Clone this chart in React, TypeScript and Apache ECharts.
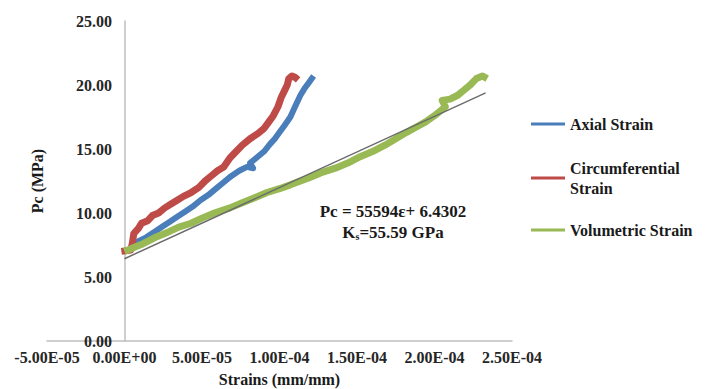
import React, { useEffect, useRef } from "react";
import * as echarts from "echarts";

const seriesNames = ["Axial Strain", "Circumferential Strain", "Volumetric Strain"];
const seriesColors = ["#4A7EBB", "#BE4B48", "#98B954"];

const axialStrain: [number, number][] = [
  [0.5e-5, 7.2], [0.9e-5, 7.8], [1.4e-5, 8.1], [1.9e-5, 8.5], [2.4e-5, 8.9],
  [2.9e-5, 9.3], [3.4e-5, 9.7], [3.9e-5, 10.1], [4.4e-5, 10.5], [4.9e-5, 11.0],
  [5.4e-5, 11.4], [5.9e-5, 11.9], [6.4e-5, 12.4], [6.9e-5, 12.9], [7.4e-5, 13.3],
  [7.9e-5, 13.6], [8.3e-5, 13.5], [8.1e-5, 13.9], [8.5e-5, 14.3], [9.0e-5, 14.8],
  [9.4e-5, 15.4], [9.7e-5, 15.8], [1.0e-4, 16.3], [1.03e-4, 16.8], [1.07e-4, 17.5],
  [1.1e-4, 18.3], [1.135e-4, 19.2], [1.16e-4, 19.7], [1.19e-4, 20.2], [1.22e-4, 20.7],
];

const circumferentialStrain: [number, number][] = [
  [-0.2e-5, 7.0], [0.4e-5, 7.1], [0.5e-5, 7.6], [0.6e-5, 8.4], [0.9e-5, 8.8],
  [1.1e-5, 9.2], [1.5e-5, 9.4], [1.8e-5, 9.8], [2.2e-5, 10.0], [2.6e-5, 10.4],
  [3.0e-5, 10.7], [3.4e-5, 11.0], [3.8e-5, 11.3], [4.3e-5, 11.6], [4.8e-5, 12.0],
  [5.2e-5, 12.5], [5.6e-5, 12.9], [6.0e-5, 13.3], [6.4e-5, 13.6], [6.8e-5, 14.3],
  [7.2e-5, 14.8], [7.6e-5, 15.3], [8.1e-5, 15.8], [8.6e-5, 16.2], [9.0e-5, 16.6],
  [9.3e-5, 17.1], [9.6e-5, 17.6], [9.9e-5, 18.3], [1.01e-4, 19.0], [1.03e-4, 19.5],
  [1.05e-4, 20.0], [1.06e-4, 20.5], [1.08e-4, 20.7], [1.1e-4, 20.6], [1.12e-4, 20.4],
];

const volumetricStrain: [number, number][] = [
  [0, 7.0], [0.6e-5, 7.3], [1.2e-5, 7.6], [2.0e-5, 8.1], [2.8e-5, 8.5],
  [3.5e-5, 8.9], [4.3e-5, 9.2], [5.0e-5, 9.6], [5.8e-5, 10.0], [6.8e-5, 10.4],
  [7.6e-5, 10.8], [8.4e-5, 11.2], [9.2e-5, 11.6], [1.0e-4, 11.9], [1.07e-4, 12.2],
  [1.135e-4, 12.5], [1.2e-4, 12.8], [1.28e-4, 13.2], [1.36e-4, 13.5], [1.44e-4, 13.9],
  [1.52e-4, 14.4], [1.6e-4, 14.8], [1.68e-4, 15.3], [1.75e-4, 15.8], [1.82e-4, 16.3],
  [1.88e-4, 16.7], [1.94e-4, 17.1], [2.0e-4, 17.6], [2.04e-4, 18.0], [2.07e-4, 18.3],
  [2.05e-4, 18.8], [2.1e-4, 18.9], [2.15e-4, 19.2], [2.19e-4, 19.6], [2.23e-4, 20.0],
  [2.27e-4, 20.5], [2.31e-4, 20.7], [2.34e-4, 20.5],
];

const trendLine: [number, number][] = [
  [0, 6.4302],
  [2.33e-4, 19.38],
];

const equationText = "Pc = 55594ε+ 6.4302";
const modulusParts = ["K", "s", "=55.59 GPa"];

const xTicks = { min: -5e-5, max: 2.5e-4, interval: 5e-5 };
const yTicks = { min: 0, max: 25, interval: 5 };

const FONT = "'Liberation Serif', 'Times New Roman', serif";

function sci(v: number): string {
  if (Math.abs(v) < 1e-12) return "0.00E+00";
  const e = Math.floor(Math.log10(Math.abs(v)) + 1e-9);
  const m = v / Math.pow(10, e);
  const es = (e < 0 ? "-" : "+") + String(Math.abs(e)).padStart(2, "0");
  return m.toFixed(2) + "E" + es;
}

export default function App() {
  const ref = useRef<HTMLDivElement>(null);
  useEffect(() => {
    if (!ref.current) return;
    const chart = echarts.init(ref.current, null, { renderer: "svg" });
    const legendText = {
      fontFamily: FONT,
      fontSize: 16,
      fontWeight: "bold" as const,
      color: "#1a1a1a",
    };
    const legendBase = {
      orient: "vertical" as const,
      left: 531,
      padding: 0,
      itemWidth: 34,
      itemHeight: 3,
      icon: "rect",
      selectedMode: false,
    };
    chart.setOption({
      animation: false,
      backgroundColor: "#ffffff",
      grid: { left: 47, right: 209, top: 21, bottom: 48, containLabel: false, outerBoundsMode: "none" },
      legend: [
        { ...legendBase, top: 114, data: [seriesNames[0]], textStyle: { ...legendText, lineHeight: 20 } },
        {
          ...legendBase,
          top: 148,
          data: [seriesNames[1]],
          formatter: () => "Circumferential\nStrain",
          textStyle: { ...legendText, lineHeight: 20, padding: [20, 0, 0, 0] },
        },
        { ...legendBase, top: 220, data: [seriesNames[2]], textStyle: { ...legendText, lineHeight: 20 } },
      ],
      xAxis: {
        type: "value",
        min: xTicks.min,
        max: xTicks.max,
        interval: xTicks.interval,
        name: "Strains (mm/mm)",
        nameLocation: "middle",
        nameGap: 30,
        nameTextStyle: { fontFamily: FONT, fontSize: 16, fontWeight: "bold", color: "#1a1a1a" },
        axisLine: { onZero: true, lineStyle: { color: "#bfbfbf", width: 1.5 } },
        axisTick: { show: false },
        splitLine: { show: false },
        axisLabel: {
          formatter: (v: number) => sci(v),
          margin: 8,
          fontFamily: FONT,
          fontSize: 16,
          fontWeight: "bold",
          color: "#262626",
          showMinLabel: true,
          showMaxLabel: true,
        },
      },
      yAxis: {
        type: "value",
        min: yTicks.min,
        max: yTicks.max,
        interval: yTicks.interval,
        name: "Pc (MPa)",
        nameLocation: "middle",
        nameGap: 2,
        nameTextStyle: { fontFamily: FONT, fontSize: 16, fontWeight: "bold", color: "#1a1a1a" },
        axisLine: { show: true, onZero: true, lineStyle: { color: "#bfbfbf", width: 1.5 } },
        axisTick: { show: false },
        splitLine: { show: false },
        axisLabel: {
          formatter: (v: number) => v.toFixed(2),
          margin: -65,
          fontFamily: FONT,
          fontSize: 16,
          fontWeight: "bold",
          color: "#262626",
        },
      },
      series: [
        {
          name: seriesNames[0],
          type: "line",
          data: axialStrain,
          showSymbol: false,
          symbol: "none",
          color: seriesColors[0],
          lineStyle: { width: 6, color: seriesColors[0], join: "round" },
        },
        {
          name: seriesNames[1],
          type: "line",
          data: circumferentialStrain,
          showSymbol: false,
          symbol: "none",
          color: seriesColors[1],
          lineStyle: { width: 7, color: seriesColors[1], join: "round" },
        },
        {
          name: seriesNames[2],
          type: "line",
          data: volumetricStrain,
          showSymbol: false,
          symbol: "none",
          color: seriesColors[2],
          lineStyle: { width: 7, color: seriesColors[2], join: "round" },
        },
        {
          name: "Linear (Volumetric Strain)",
          type: "line",
          data: trendLine,
          showSymbol: false,
          symbol: "none",
          color: "#6b6b6b",
          lineStyle: { width: 1.5, color: "#6b6b6b" },
          z: 5,
        },
      ],
      graphic: [
        {
          type: "text",
          x: 393,
          y: 222,
          style: {
            text:
              "{a|" + equationText + "}\n{a|" + modulusParts[0] + "}{s|" + modulusParts[1] + "}{a|" + modulusParts[2] + "}",
            align: "center",
            verticalAlign: "middle",
            rich: {
              a: { fontFamily: FONT, fontSize: 17, fontWeight: "bold", fill: "#1a1a1a", lineHeight: 21 },
              s: { fontFamily: FONT, fontSize: 10, fontWeight: "bold", fill: "#1a1a1a", lineHeight: 21, padding: [8, 0, 0, 0] },
            },
          },
        },
      ],
    });
    return () => chart.dispose();
  }, []);
  return (
    <div
      ref={ref}
      style={{ position: "fixed", left: 0, top: 0, width: 721, height: 389, background: "#fff" }}
    />
  );
}
